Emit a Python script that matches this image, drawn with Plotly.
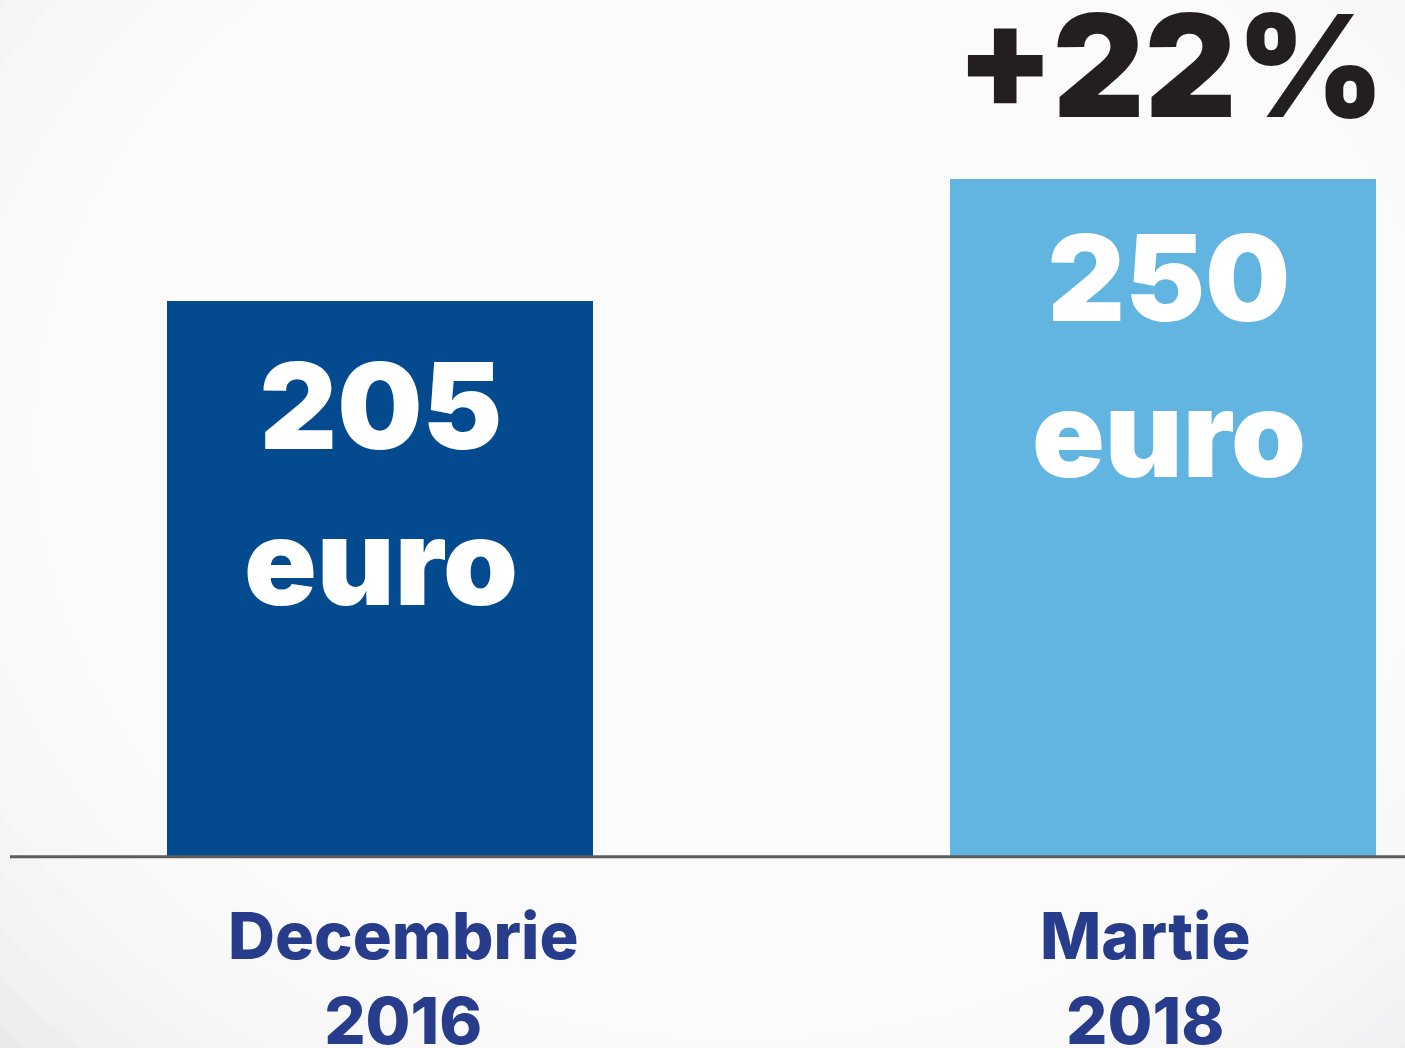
import plotly.graph_objects as go

# ---- data ----
categories = ["Decembrie<br>2016", "Martie<br>2018"]
values = [205, 250]
value_labels = ["205<br>euro", "250<br>euro"]
bar_colors = ["#034A8F", "#61B5E0"]
change_label = "+22%"

W, H = 1405, 1048
ML, MR, MT, MB = 10, 0, 0, 192
PW, PH = W - ML - MR, H - MT - MB

FONT = "Inter"

fig = go.Figure()
fig.add_trace(go.Bar(
    x=[0, 1], y=values, width=0.544,
    marker=dict(color=bar_colors, line=dict(width=0)),
    hoverinfo="skip",
))

def px2paper(px, py):
    return (px - ML) / PW, 1 - (py - MT) / PH

# radial background gradient approximation
shapes = []
cx, cy = 740, 440
n = 18
for i in range(n):
    r = 1050 - i * 38
    rx, ry = r * 1.0, r * 0.85
    x0, y1 = px2paper(cx - rx, cy - ry)
    x1, y0 = px2paper(cx + rx, cy + ry)
    shapes.append(dict(type="circle", xref="paper", yref="paper",
                       x0=x0, x1=x1, y0=y0, y1=y1,
                       fillcolor="white", opacity=0.2,
                       line=dict(width=0), layer="below"))
# baseline (at y = 0, the bottom of the plot area; paper ref so it is not clipped)
shapes.append(dict(type="line", xref="paper", yref="paper", x0=0, x1=1,
                   y0=-0.001, y1=-0.001,
                   line=dict(color="#5c5c5c", width=3), layer="above"))

annotations = []
value_shift = [1, 6]
value_yshift = [-30, -24]
for i, (v, lab) in enumerate(zip(values, value_labels)):
    annotations.append(dict(x=i, y=v, xref="x", yref="y", text=lab,
                            showarrow=False, yanchor="top", xanchor="center",
                            xshift=value_shift[i], yshift=value_yshift[i],
                            font=dict(family=FONT, size=120, color="white", weight=900)))
annotations.append(dict(x=1, y=values[1], xref="x", yref="y", text=change_label,
                        showarrow=False, yanchor="bottom", xanchor="center",
                        xshift=8, yshift=26,
                        font=dict(family=FONT, size=142, color="#231F20", weight=900)))
cat_shift = [23, -17]
for i, c in enumerate(categories):
    annotations.append(dict(x=i, y=0, xref="x", yref="paper", text=c,
                            showarrow=False, yanchor="top", xanchor="center",
                            xshift=cat_shift[i], yshift=-38,
                            font=dict(family=FONT, size=65, color="#283C8C", weight=800)))

fig.update_layout(
    width=W, height=H,
    margin=dict(l=ML, r=MR, t=MT, b=MB),
    paper_bgcolor="#e4e5e7", plot_bgcolor="rgba(0,0,0,0)",
    showlegend=False,
    xaxis=dict(range=[-0.4725, 1.3091], visible=False, fixedrange=True),
    yaxis=dict(range=[0, 315.9], visible=False, fixedrange=True),
    shapes=shapes, annotations=annotations,
    bargap=0,
)
fig.write_html("out.html", config={"displayModeBar": False},
               post_script="document.body.style.margin='0px';document.body.style.overflow='hidden';")
